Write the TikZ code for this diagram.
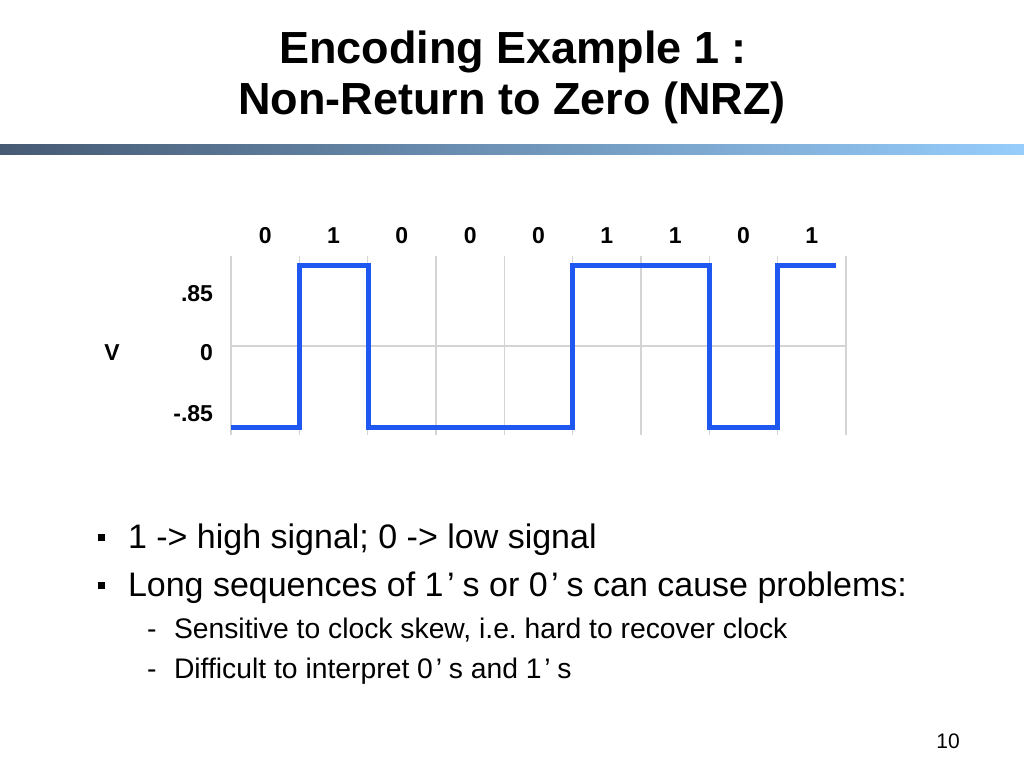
\documentclass[tikz,border=0pt]{standalone}
\usepackage{fontspec}
\setmainfont{Liberation Sans}
\frenchspacing
\newcommand\wquote{\makebox[0.56em][l]{\hspace{0.1em}’}}
\definecolor{gridgray}{RGB}{212,212,212}
\definecolor{sigblue}{RGB}{30,88,240}
\definecolor{barL}{RGB}{70,90,115}
\definecolor{barM}{RGB}{118,160,205}
\definecolor{barR}{RGB}{150,205,252}
\begin{document}
\begin{tikzpicture}[x=1pt,y=-1pt,
  every node/.style={inner sep=0pt, outer sep=0pt},
  titletext/.style={font=\fontsize{45}{54}\selectfont\bfseries, anchor=base},
  chartlbl/.style={font=\fontsize{23}{27}\selectfont\bfseries, anchor=base},
  ylbl/.style={font=\fontsize{23}{27}\selectfont\bfseries, anchor=base east},
  bultext/.style={font=\fontsize{34}{40}\selectfont, anchor=base west},
  subtext/.style={font=\fontsize{28.3}{33}\selectfont, anchor=base west},
  bulmark/.style={fill=black, minimum size=7pt},
  gridln/.style={draw=gridgray, line width=1.1pt},
  signal/.style={draw=sigblue, line width=5pt, line join=miter}]
\useasboundingbox (0,0) rectangle (1024,768);
\fill[white] (0,0) rectangle (1024,768);
% title
\node[titletext] (t1) at (513,63.5) {Encoding Example 1 :};
\node[titletext] (t2) at (512,114.5) {Non-Return to Zero (NRZ)};
\shade[left color=barL, middle color=barM, right color=barR] (0,144) rectangle (1024,154);
% grid
\foreach \i in {0,...,9} \draw[gridln] ({231+68.33*\i},256) -- ({231+68.33*\i},435);
\draw[gridln] (231,346) -- (846,346);
% bit labels
\foreach \b [count=\i] in {0,1,0,0,0,1,1,0,1}
  \node[chartlbl] (bit\i) at ({231+68.33*(\i-0.5)},243) {\b};
% axis labels
\node[ylbl] (yhi) at (213,301) {.85};
\node[ylbl] (yzero) at (213,360) {0};
\node[ylbl] (ylo) at (213,421) {-.85};
\node[chartlbl] (vlbl) at (112,360) {V};
% signal
\draw[signal] (231,427) -- (299,427) -- (299,265) -- (368,265) -- (368,427)
  -- (572,427) -- (572,265) -- (709,265) -- (709,427) -- (777,427)
  -- (777,265) -- (836,265);
% bullets
\node[bulmark] (m1) at (101,537) {};
\node[bultext] (l1) at (128,548) {1 -> high signal; 0 -> low signal};
\node[bulmark] (m2) at (101,585) {};
\node[bultext] (l2) at (128,596) {Long sequences of 1\wquote s or 0\wquote s can cause problems:};
\node[subtext] (d1) at (147,638) {-};
\node[subtext] (s1) at (174,638) {Sensitive to clock skew, i.e. hard to recover clock};
\node[subtext] (d2) at (147,678) {-};
\node[subtext] (s2) at (174,678) {Difficult to interpret 0\wquote s and 1\wquote s};
% page number
\node[font=\fontsize{21}{25}\selectfont, anchor=base] (pg) at (948,748) {10};
\end{tikzpicture}
\end{document}
